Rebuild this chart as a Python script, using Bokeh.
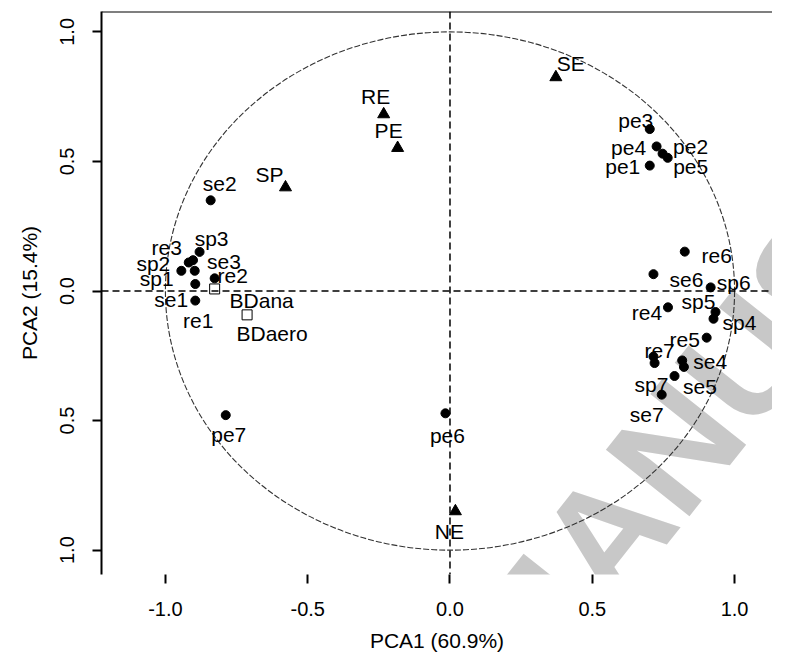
from bokeh.plotting import figure
from bokeh.models import ColumnDataSource, FixedTicker, Span, Label, Range1d
from bokeh.core.properties import value
from bokeh.embed import file_html
from bokeh.resources import INLINE

# ---------------- data ----------------
# sample scores (filled circles)
sample_names = ["sp1", "sp2", "sp3", "sp4", "sp5", "sp6", "sp7",
                "se1", "se2", "se3", "se4", "se5", "se6", "se7",
                "re1", "re2", "re3", "re4", "re5", "re6", "re7",
                "pe1", "pe2", "pe3", "pe4", "pe5", "pe6", "pe7", "pe8"]
sample_pc1 = [-0.897, -0.944, -0.880, 0.926, 0.933, 0.916, 0.789,
              -0.895, -0.841, -0.903, 0.816, 0.822, 0.715, 0.744,
              -0.895, -0.827, -0.918, 0.766, 0.902, 0.825, 0.719,
              0.702, 0.747, 0.702, 0.726, 0.765, -0.016, -0.788, 0.715]
sample_pc2 = [0.078, 0.078, 0.151, -0.107, -0.081, 0.014, -0.328,
              0.027, 0.350, 0.119, -0.268, -0.293, 0.065, -0.400,
              -0.037, 0.049, 0.110, -0.063, -0.180, 0.152, -0.278,
              0.484, 0.530, 0.625, 0.558, 0.514, -0.472, -0.479, -0.253]
sample_text = ["sp1", "sp2", "sp3", "sp4", "sp5", "sp6", "sp7",
               "se1", "se2", "se3", "se4", "se5", "se6", "se7",
               "re1", "re2", "re3", "re4", "re5", "re6", "re7",
               "pe1", "pe2", "pe3", "pe4", "pe5", "pe6", "pe7", ""]

# group scores (filled triangles)
group_names = ["SP", "SE", "RE", "PE", "NE"]
group_pc1 = [-0.578, 0.372, -0.233, -0.184, 0.019]
group_pc2 = [0.400, 0.825, 0.682, 0.552, -0.850]

# supplementary variables (open squares)
supp_names = ["BDana", "BDaero"]
supp_pc1 = [-0.827, -0.713]
supp_pc2 = [0.008, -0.092]

x_ticks = [-1.0, -0.5, 0.0, 0.5, 1.0]
x_tick_labels = ["-1.0", "-0.5", "0.0", "0.5", "1.0"]
y_ticks = [-1.0, -0.5, 0.0, 0.5, 1.0]
y_tick_labels = ["1.0", "0.5", "0.0", "0.5", "1.0"]

# label placement (screen-pixel offsets, style only)
sample_dx = [-38, -28, 12, 26, -17, 23, -23,
             -24, 9, 31, 28, 16, 33, -15,
             3, 18, -22, -21, -22, 32, 5,
             -27, 28, -14, -28, 23, 2, 3, 0]
sample_dy = [8, -7, -13, 4, -11, -5, 8,
             15, -17, 1, 1, 20, 5, 20,
             20, -3, -15, 5, 2, 4, -13,
             1, -7, -9, 1, 9, 22, 19, 0]
group_dx = [-16, 15, -8, -9, -6]
group_dy = [-13, -14, -18, -17, 20]
supp_dx = [47, 25]
supp_dy = [12, 19]

FONT = "Liberation Sans"
TOP = 1.0787

# ---------------- figure ----------------
p = figure(width=772, height=654, output_backend="svg", toolbar_location=None,
           x_range=Range1d(-1.2246, 1.1333), y_range=Range1d(-1.094, TOP),
           min_border_left=101, min_border_right=0, min_border_top=11,
           min_border_bottom=77)
p.grid.visible = False
p.outline_line_color = None
p.background_fill_color = "white"
p.border_fill_color = "white"

# watermark (drawn beneath the data)
p.add_layout(Label(x=0.145, y=-1.50, text="MANUSCRIPT", angle=0.90,
                   text_font=FONT, text_font_style="bold",
                   text_font_size="155px", text_color="#c8c8c8",
                   text_align="left", text_baseline="alphabetic",
                   level="guide"))

LV = "annotation"

# correlation circle
p.ellipse(x=[0], y=[0], width=[2], height=[2], fill_color=None,
          line_color="#333333", line_width=1.1, line_dash="6 2", level=LV)

# reference lines
p.add_layout(Span(location=0, dimension="height", line_color="black",
                  line_width=1.5, line_dash="7 4"))
p.add_layout(Span(location=0, dimension="width", line_color="black",
                  line_width=1.5, line_dash="7 4"))
p.add_layout(Span(location=TOP, dimension="width", line_color="black",
                  line_width=2))

s_src = ColumnDataSource(dict(x=sample_pc1, y=sample_pc2, t=sample_text,
                              dx=sample_dx, dy=sample_dy))
g_src = ColumnDataSource(dict(x=group_pc1, y=group_pc2, t=group_names,
                              dx=group_dx, dy=group_dy))
b_src = ColumnDataSource(dict(x=supp_pc1, y=supp_pc2, t=supp_names,
                              dx=supp_dx, dy=supp_dy))

p.scatter("x", "y", source=s_src, marker="circle", size=9, color="black",
          level=LV)
p.scatter("x", "y", source=g_src, marker="triangle", size=12, color="black",
          level=LV)
p.scatter("x", "y", source=b_src, marker="square", size=10,
          fill_color="white", line_color="black", line_width=1, level=LV)

for src in (s_src, g_src, b_src):
    p.text("x", "y", text="t", source=src, x_offset="dx", y_offset="dy",
           text_font=value(FONT), text_font_size="21px", text_color="black",
           text_align="center", text_baseline="middle", level=LV)

# axes
ax = p.xaxis[0]
ax.level = LV
ax.ticker = FixedTicker(ticks=x_ticks)
ax.major_label_overrides = {t: l for t, l in zip(x_ticks, x_tick_labels)}
ax.axis_line_color = None
ax.minor_tick_line_color = None
ax.major_tick_out = 9
ax.major_tick_in = 0
ax.major_tick_line_width = 2
ax.major_label_standoff = 18
ax.major_label_text_font = FONT
ax.major_label_text_font_size = "20px"
ax.major_label_text_color = "black"
ax.axis_label = "PCA1 (60.9%)"
ax.axis_label_text_font = FONT
ax.axis_label_text_font_size = "21px"
ax.axis_label_text_font_style = "normal"
ax.axis_label_text_color = "black"
ax.axis_label_standoff = 10

ay = p.yaxis[0]
ay.level = LV
ay.ticker = FixedTicker(ticks=y_ticks)
ay.major_label_overrides = {t: l for t, l in zip(y_ticks, y_tick_labels)}
ay.axis_line_width = 2
ay.axis_line_color = "black"
ay.minor_tick_line_color = None
ay.major_tick_out = 9
ay.major_tick_in = 0
ay.major_tick_line_width = 2
ay.major_label_orientation = "vertical"
ay.major_label_standoff = 18
ay.major_label_text_font = FONT
ay.major_label_text_font_size = "20px"
ay.major_label_text_color = "black"
ay.axis_label = "PCA2 (15.4%)"
ay.axis_label_text_font = FONT
ay.axis_label_text_font_size = "21px"
ay.axis_label_text_font_style = "normal"
ay.axis_label_text_color = "black"
ay.axis_label_standoff = 17

open("out.html", "w").write(file_html(p, INLINE))
